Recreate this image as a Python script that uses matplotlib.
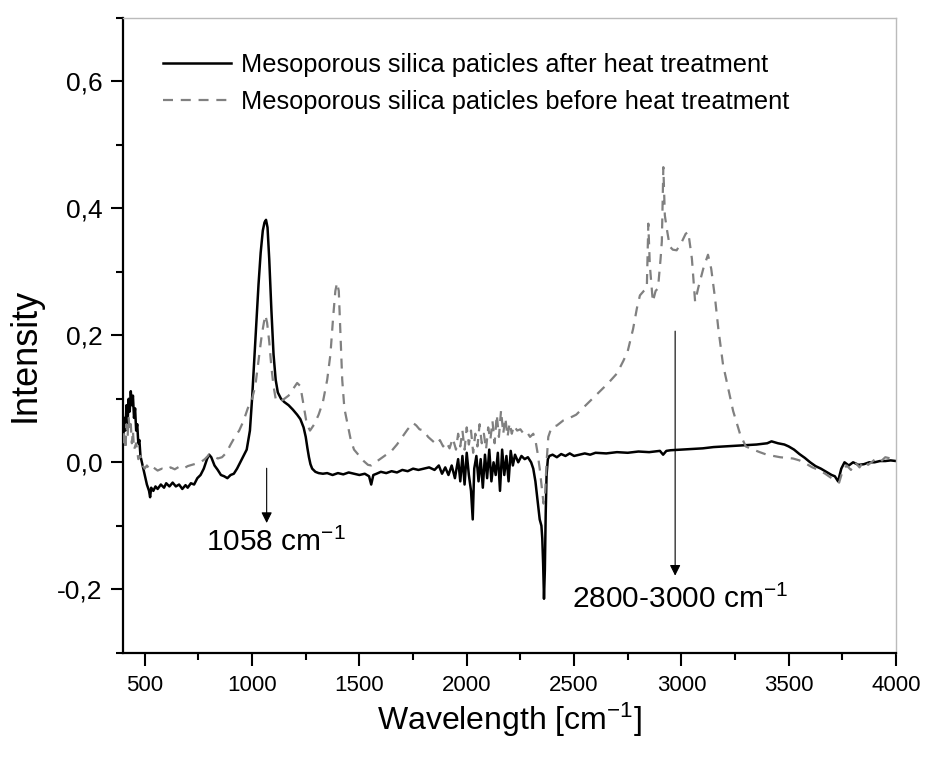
import matplotlib
matplotlib.use('Agg')
import matplotlib.pyplot as plt
from matplotlib.ticker import MultipleLocator

plt.rcParams['font.family'] = ['Liberation Sans', 'DejaVu Sans']
plt.rcParams['mathtext.default'] = 'regular'

# after heat treatment (black line)
x_after = [400, 405, 410, 415, 420, 425, 430, 435, 440, 445, 450, 455, 460, 465, 470, 475, 480, 490, 500, 510,
           520, 525, 530, 540, 550, 560, 575, 590, 600, 615, 630, 645, 660, 675, 690, 700, 715, 730, 745, 760,
           775, 790, 800, 810, 825, 840, 855, 870, 885, 900, 915, 930, 945, 960, 975, 990, 1000, 1010, 1020, 1030,
           1040, 1050, 1058, 1065, 1072, 1080, 1090, 1100, 1110, 1120, 1135, 1150, 1170, 1190, 1210, 1225, 1240, 1250, 1258, 1265,
           1272, 1280, 1295, 1310, 1330, 1350, 1375, 1400, 1425, 1450, 1475, 1500, 1525, 1545, 1555, 1565, 1580, 1600, 1625, 1650,
           1675, 1700, 1725, 1750, 1775, 1800, 1825, 1850, 1870, 1885, 1900, 1915, 1930, 1945, 1960, 1970, 1980, 1990, 2000, 2010,
           2020, 2028, 2035, 2045, 2055, 2065, 2075, 2085, 2095, 2105, 2115, 2125, 2135, 2145, 2155, 2165, 2175, 2185, 2195, 2205,
           2215, 2225, 2240, 2255, 2270, 2285, 2300, 2310, 2320, 2330, 2340, 2348, 2352, 2356, 2360, 2364, 2368, 2372, 2378, 2385,
           2400, 2420, 2440, 2460, 2480, 2500, 2525, 2550, 2575, 2600, 2650, 2700, 2750, 2800, 2850, 2900, 2915, 2930, 2950, 3000,
           3050, 3100, 3150, 3200, 3250, 3300, 3350, 3400, 3420, 3450, 3480, 3500, 3525, 3550, 3575, 3600, 3625, 3650, 3675, 3700,
           3715, 3730, 3745, 3760, 3780, 3800, 3825, 3850, 3875, 3900, 3925, 3950, 3975, 4000]
y_after = [0.04, 0.07, 0.05, 0.09, 0.06, 0.10, 0.08, 0.112, 0.09, 0.105, 0.07, 0.085, 0.05, 0.06, 0.03, 0.035, 0.01, -0.005, -0.02, -0.035,
           -0.045, -0.055, -0.04, -0.045, -0.038, -0.042, -0.035, -0.04, -0.033, -0.038, -0.032, -0.038, -0.035, -0.042, -0.036, -0.04, -0.033, -0.035, -0.025, -0.02,
           -0.01, 0.005, 0.012, 0.008, -0.005, -0.012, -0.02, -0.022, -0.025, -0.02, -0.018, -0.01, 0.0, 0.01, 0.02, 0.05, 0.1, 0.16, 0.22, 0.28,
           0.33, 0.365, 0.378, 0.382, 0.37, 0.32, 0.24, 0.17, 0.13, 0.11, 0.1, 0.095, 0.09, 0.083, 0.075, 0.068, 0.055, 0.04, 0.022, 0.008,
           -0.003, -0.01, -0.015, -0.017, -0.018, -0.017, -0.02, -0.017, -0.019, -0.016, -0.018, -0.02, -0.018, -0.022, -0.035, -0.02, -0.018, -0.015, -0.017, -0.014,
           -0.016, -0.012, -0.014, -0.01, -0.012, -0.01, -0.008, -0.012, -0.005, -0.018, -0.008, -0.02, -0.005, -0.025, 0.005, -0.03, 0.01, -0.035, 0.015, -0.02,
           -0.045, -0.09, -0.01, 0.01, -0.03, 0.005, -0.04, 0.012, -0.025, 0.02, -0.03, 0.0, -0.02, 0.015, -0.045, 0.02, -0.02, 0.01, -0.03, 0.018,
           -0.005, 0.012, 0.0, 0.01, 0.005, 0.008, 0.0, -0.01, -0.03, -0.06, -0.09, -0.1, -0.12, -0.16, -0.215, -0.17, -0.08, -0.02, 0.005, 0.01,
           0.012, 0.008, 0.013, 0.01, 0.014, 0.01, 0.012, 0.014, 0.012, 0.015, 0.014, 0.016, 0.015, 0.017, 0.016, 0.018, 0.012, 0.018, 0.019, 0.02,
           0.021, 0.022, 0.024, 0.025, 0.026, 0.027, 0.028, 0.03, 0.033, 0.03, 0.028, 0.025, 0.02, 0.013, 0.007, 0.0, -0.006, -0.01, -0.015, -0.02,
           -0.022, -0.03, -0.01, 0.0, -0.005, 0.0, -0.004, -0.003, 0.0, 0.0, 0.002, 0.002, 0.003, 0.002]

# before heat treatment (grey dashed line)
x_before = [400, 405, 410, 415, 420, 425, 430, 435, 440, 445, 450, 460, 470, 480, 490, 500, 510, 525, 540, 560,
            580, 600, 620, 640, 660, 680, 700, 720, 740, 760, 780, 800, 820, 840, 860, 880, 900, 920, 940, 960,
            980, 1000, 1015, 1030, 1045, 1055, 1062, 1070, 1080, 1090, 1100, 1110, 1130, 1150, 1170, 1190, 1210, 1225, 1240, 1255,
            1270, 1290, 1310, 1330, 1350, 1365, 1378, 1388, 1396, 1404, 1412, 1420, 1430, 1445, 1460, 1475, 1500, 1520, 1540, 1555,
            1575, 1600, 1625, 1650, 1675, 1700, 1725, 1750, 1765, 1780, 1800, 1820, 1840, 1860, 1875, 1890, 1905, 1920, 1935, 1950,
            1960, 1970, 1980, 1990, 2000, 2010, 2020, 2030, 2040, 2050, 2060, 2070, 2080, 2090, 2100, 2110, 2120, 2130, 2140, 2150,
            2160, 2170, 2180, 2190, 2200, 2210, 2220, 2235, 2250, 2265, 2280, 2295, 2310, 2320, 2330, 2340, 2350, 2358, 2365, 2372,
            2380, 2395, 2420, 2450, 2480, 2510, 2540, 2570, 2600, 2630, 2660, 2700, 2730, 2750, 2775, 2793, 2807, 2825, 2839, 2846,
            2853, 2867, 2880, 2891, 2903, 2909, 2916, 2923, 2932, 2946, 2960, 2978, 3003, 3020, 3032, 3049, 3064, 3078, 3102, 3124,
            3139, 3157, 3172, 3194, 3218, 3241, 3273, 3300, 3335, 3365, 3398, 3430, 3460, 3491, 3520, 3550, 3580, 3610, 3640, 3670,
            3700, 3720, 3735, 3750, 3770, 3790, 3810, 3830, 3850, 3870, 3900, 3925, 3950, 3975, 4000]
y_before = [0.03, 0.05, 0.02, 0.06, 0.04, 0.07, 0.05, 0.06, 0.03, 0.05, 0.02, 0.03, 0.005, 0.01, -0.005, -0.01, -0.005, -0.012, -0.008, -0.013,
            -0.01, -0.012, -0.008, -0.011, -0.007, -0.01, -0.006, -0.004, -0.002, 0.0, 0.005, 0.012, 0.01, 0.006, 0.008, 0.015, 0.028, 0.04, 0.05, 0.065,
            0.085, 0.1, 0.12, 0.16, 0.2, 0.22, 0.232, 0.22, 0.19, 0.15, 0.12, 0.1, 0.095, 0.1, 0.105, 0.115, 0.125, 0.12, 0.09, 0.06,
            0.05, 0.06, 0.075, 0.095, 0.13, 0.17, 0.23, 0.27, 0.283, 0.27, 0.2, 0.13, 0.085, 0.06, 0.035, 0.02, 0.01, 0.002, -0.004, -0.005,
            0.0, 0.006, 0.012, 0.018, 0.028, 0.04, 0.052, 0.062, 0.058, 0.052, 0.05, 0.04, 0.034, 0.028, 0.035, 0.025, 0.032, 0.022, 0.038, 0.02,
            0.045, 0.025, 0.05, 0.02, 0.055, 0.028, 0.05, 0.015, 0.045, 0.025, 0.06, 0.03, 0.045, 0.02, 0.055, 0.035, 0.065, 0.03, 0.075, 0.04,
            0.082, 0.045, 0.07, 0.04, 0.062, 0.045, 0.058, 0.05, 0.052, 0.045, 0.048, 0.04, 0.045, 0.035, 0.015, -0.01, -0.04, -0.065, -0.05, 0.0,
            0.04, 0.055, 0.058, 0.066, 0.07, 0.075, 0.085, 0.095, 0.105, 0.115, 0.125, 0.14, 0.16, 0.175, 0.21, 0.243, 0.263, 0.27, 0.274, 0.376,
            0.311, 0.253, 0.27, 0.274, 0.32, 0.348, 0.465, 0.389, 0.368, 0.34, 0.335, 0.334, 0.348, 0.36, 0.363, 0.321, 0.253, 0.274, 0.305, 0.327,
            0.305, 0.258, 0.211, 0.154, 0.117, 0.081, 0.045, 0.025, 0.02, 0.016, 0.012, 0.01, 0.008, 0.007, 0.006, 0.003, -0.002, -0.008, -0.012, -0.018,
            -0.025, -0.028, -0.032, -0.015, -0.005, -0.012, 0.0, -0.008, 0.002, -0.004, 0.004, 0.0, 0.008, 0.006, 0.01]

y_ticks = [-0.2, 0.0, 0.2, 0.4, 0.6]
y_tick_labels = ['-0,2', '0,0', '0,2', '0,4', '0,6']
x_ticks = [500, 1000, 1500, 2000, 2500, 3000, 3500, 4000]

fig = plt.figure(figsize=(9.29, 7.62), dpi=100)
ax = fig.add_axes([0.1327, 0.1434, 0.8318, 0.833])

ax.plot(x_after, y_after, color='black', lw=1.8, label='Mesoporous silica paticles after heat treatment', zorder=2)
ax.plot(x_before, y_before, color='#808080', lw=1.6, dashes=(4.5, 3.5),
        label='Mesoporous silica paticles before heat treatment', zorder=3)

ax.set_xlim(400, 4000)
ax.set_ylim(-0.3, 0.7)
ax.set_xticks(x_ticks)
ax.set_yticks(y_ticks)
ax.set_yticklabels(y_tick_labels)
ax.xaxis.set_minor_locator(MultipleLocator(250))
ax.yaxis.set_minor_locator(MultipleLocator(0.1))
ax.tick_params(which='major', direction='out', length=9, width=1.5, color='black')
ax.tick_params(which='minor', direction='out', length=5, width=1.5, color='black')
ax.tick_params(axis='y', which='major', labelsize=19, pad=6)
ax.tick_params(axis='x', which='major', labelsize=16, pad=7)
ax.tick_params(top=False, right=False, which='both')

for s in ['left', 'bottom']:
    ax.spines[s].set_linewidth(1.6)
for s in ['top', 'right']:
    ax.spines[s].set_color('#bbbbbb')
    ax.spines[s].set_linewidth(1.0)

ax.set_xlabel('Wavelength [cm$^{-1}$]', fontsize=23)
ax.set_ylabel('Intensity', fontsize=26)
ax.yaxis.set_label_coords(-0.105, 0.47)
ax.xaxis.set_label_coords(0.5, -0.075)
ax.xaxis.label.set_va('top')

# arrows + labels
ax.annotate('', xy=(1068, -0.1), xytext=(1068, -0.005),
            arrowprops=dict(arrowstyle='-|>', color='black', lw=0.8, mutation_scale=16))
ax.text(785, -0.139, '1058 cm$^{-1}$', fontsize=21.5, va='baseline')
ax.annotate('', xy=(2971, -0.183), xytext=(2971, 0.211),
            arrowprops=dict(arrowstyle='-|>', color='black', lw=0.8, mutation_scale=16))
ax.text(2489, -0.230, '2800-3000 cm$^{-1}$', fontsize=21.5, va='baseline')

ax.legend(loc='upper left', bbox_to_anchor=(0.051, 0.945), frameon=False, fontsize=18.3,
          handlelength=2.7, handletextpad=0.4, labelspacing=0.52, borderpad=0, borderaxespad=0)

fig.savefig('out.png', dpi=100)
